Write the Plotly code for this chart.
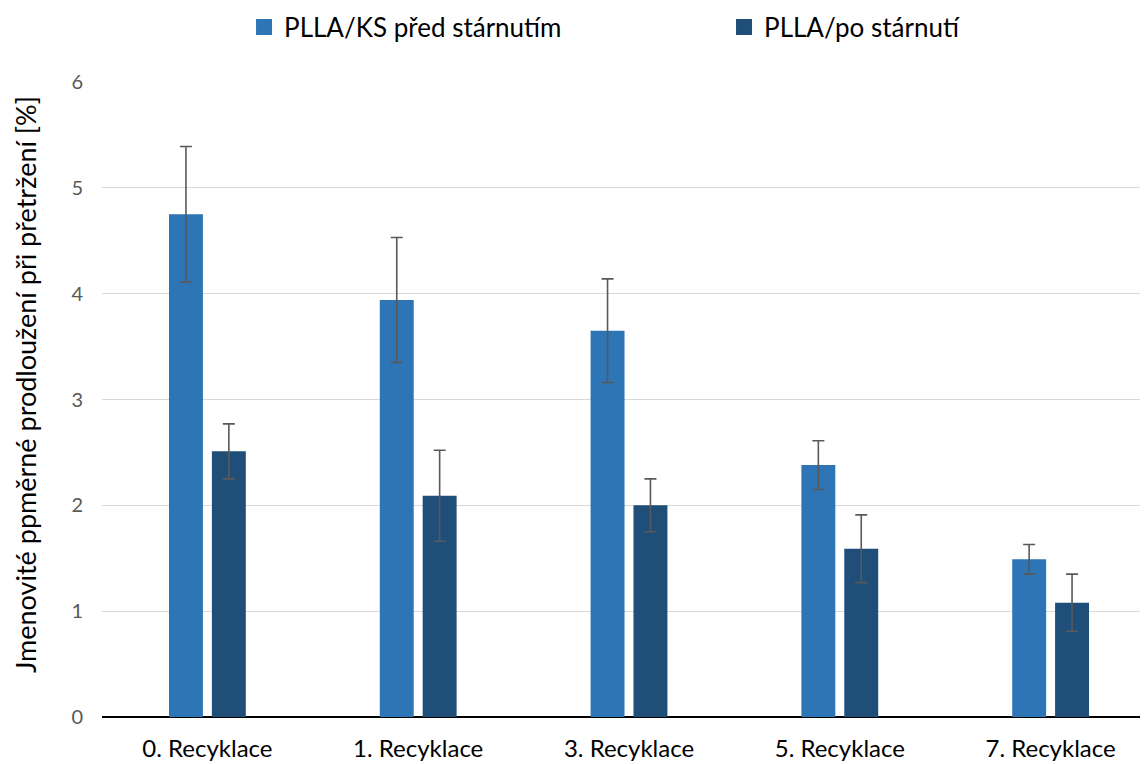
import plotly.graph_objects as go

categories = ["0. Recyklace", "1. Recyklace", "3. Recyklace", "5. Recyklace", "7. Recyklace"]
before_vals = [4.75, 3.94, 3.65, 2.38, 1.49]
before_err = [0.64, 0.59, 0.49, 0.23, 0.14]
after_vals = [2.51, 2.09, 2.00, 1.59, 1.08]
after_err = [0.26, 0.43, 0.25, 0.32, 0.27]
series_names = ["PLLA/KS před stárnutím", "PLLA/po stárnutí"]
series_colors = ["#2E75B6", "#1F4E79"]
y_ticks = [0, 1, 2, 3, 4, 5, 6]
y_title = "Jmenovité ppměrné prodloužení při přetržení [%]"

FONT = "Lato"
err_style = dict(type="data", visible=True, color="#595959", thickness=1.6, width=6)

fig = go.Figure()
fig.add_trace(go.Bar(
    x=categories, y=before_vals, name=series_names[0], showlegend=False,
    marker=dict(color=series_colors[0], line=dict(width=0)),
    error_y=dict(array=before_err, **err_style),
))
fig.add_trace(go.Bar(
    x=categories, y=after_vals, name=series_names[1], showlegend=False,
    marker=dict(color=series_colors[1], line=dict(width=0)),
    error_y=dict(array=after_err, **err_style),
))
# legend entries with larger square swatches
for name, col in zip(series_names, series_colors):
    fig.add_trace(go.Scatter(
        x=[None], y=[None], mode="markers", name=name,
        marker=dict(symbol="square", size=17, color=col),
    ))

fig.add_annotation(
    text=y_title, textangle=-90, showarrow=False,
    xref="paper", yref="paper", x=-0.072, y=0.523,
    xanchor="center", yanchor="middle",
    font=dict(size=27, family=FONT, color="#000000"),
)

fig.update_layout(
    width=1148, height=764,
    margin=dict(l=94, r=0, t=74, b=55),
    paper_bgcolor="white", plot_bgcolor="white",
    font=dict(family=FONT, color="#000000"),
    barmode="group", bargap=0.593, bargroupgap=0.209,
    showlegend=True,
    legend=dict(
        orientation="h", xref="container", x=0.2056, xanchor="left",
        yref="container", y=0.975, yanchor="middle",
        font=dict(size=26, family=FONT, color="#000000"),
        entrywidth=435, entrywidthmode="pixels",
        itemsizing="trace",
    ),
    xaxis=dict(
        tickfont=dict(size=24, family=FONT, color="#000000"),
        showgrid=False, showline=False, ticks="",
        ticklabelstandoff=15,
    ),
    yaxis=dict(
        range=[0, 6], tickvals=y_ticks, ticktext=[str(v) for v in y_ticks],
        tickfont=dict(size=20, family=FONT, color="#595959"),
        showgrid=True, gridcolor="#D9D9D9", gridwidth=1.3,
        zeroline=True, zerolinecolor="#000000", zerolinewidth=1.5,
        ticks="", ticklen=0, ticklabelstandoff=18,
    ),
)

fig.write_html("out.html")
